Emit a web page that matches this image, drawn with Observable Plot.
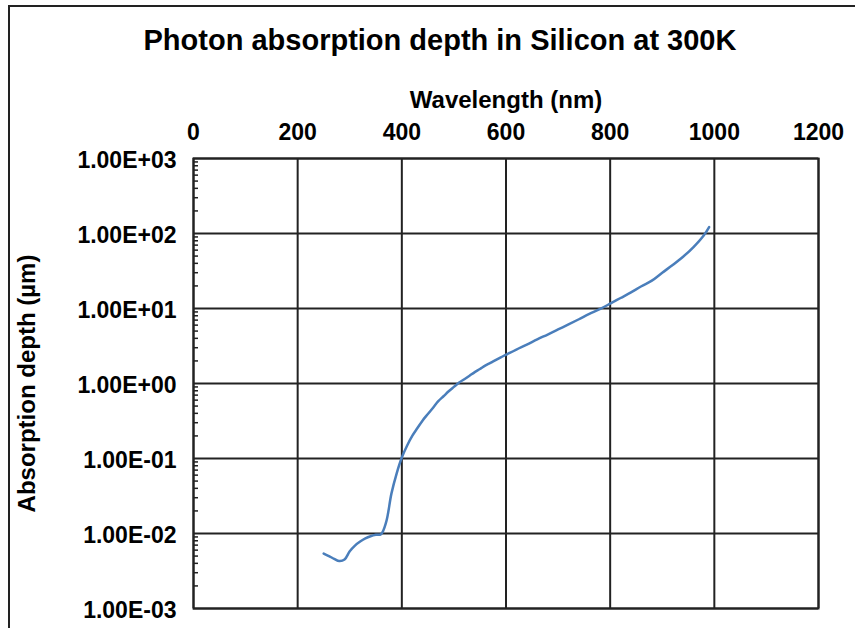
<!DOCTYPE html>
<html>
<head>
<meta charset="utf-8">
<script src="https://cdn.jsdelivr.net/npm/d3@7"></script>
<script src="https://cdn.jsdelivr.net/npm/@observablehq/plot@0.6"></script>
<style>
  html, body { margin: 0; padding: 0; background: #fff; overflow: hidden; width: 855px; height: 628px; }
  #wrap { position: relative; width: 855px; height: 628px; font-family: "Liberation Sans", Arial, sans-serif; }
  #border { position: absolute; left: 8px; top: 5px; right: -4px; bottom: -4px; border-left: 2px solid #222; border-top: 2px solid #222; }
  #title { position: relative; height: 70px; }
  #title span { position: absolute; left: 0; width: 880px; top: 26px; text-align: center; font-size: 29px; line-height: 29px; font-weight: bold; color: #000; }
  #chart { position: relative; }
  #chart svg { display: block; }
</style>
</head>
<body>
<div id="wrap">
  <div id="border"></div>
  <div id="title"><span>Photon absorption depth in Silicon at 300K</span></div>
  <div id="chart"></div>
</div>
<script>
// Data
const wavelength = [250,260,270,280,290,300,310,320,330,340,350,360,370,380,390,400,410,420,430,440,450,460,470,480,490,500,510,520,530,540,550,560,570,580,590,600,620,640,660,680,700,720,740,760,780,800,820,840,860,880,900,920,940,960,980,990];
const depth = [0.0054,0.0050,0.0046,0.0043,0.0045,0.0058,0.0069,0.0078,0.0086,0.0092,0.0096,0.0098,0.0143,0.034,0.063,0.103,0.148,0.20,0.255,0.322,0.392,0.476,0.581,0.676,0.787,0.901,1.03,1.14,1.27,1.42,1.56,1.73,1.88,2.05,2.23,2.42,2.84,3.30,3.88,4.50,5.26,6.13,7.19,8.47,9.8,11.6,13.8,16.4,19.8,23.5,30,38,49,66,95,122];
const xTicks = [0,200,400,600,800,1000,1200];
const yTicks = [1e-3,1e-2,1e-1,1e0,1e1,1e2,1e3];
const minorTicks = [];
for (let e = -3; e < 3; e++) for (let m = 2; m <= 9; m++) minorTicks.push(m * Math.pow(10, e));

const data = wavelength.map((w, i) => ({w, d: depth[i]}));
const fmt = d => {
  const e = Math.round(Math.log10(d));
  const m = d / Math.pow(10, e);
  const s = e < 0 ? "-" : "+";
  return m.toFixed(2) + "E" + s + String(Math.abs(e)).padStart(2, "0");
};
const font = "Liberation Sans, Arial, sans-serif";

const plot = Plot.plot({
  width: 855,
  height: 558,
  marginTop: 88,
  marginRight: 37,
  marginBottom: 20,
  marginLeft: 193,
  style: {fontFamily: font, background: "transparent", overflow: "visible"},
  x: {domain: [0, 1200]},
  y: {type: "log", domain: [1e-3, 1e3]},
  marks: [
    Plot.gridX(xTicks, {stroke: "#222", strokeOpacity: 1, strokeWidth: 2}),
    Plot.gridY(yTicks, {stroke: "#222", strokeOpacity: 1, strokeWidth: 2}),
    Plot.axisY({ticks: minorTicks, tickSize: 5, dx: 5, text: null, label: null, stroke: "#222", strokeWidth: 1.5}),
    Plot.axisX({anchor: "top", ticks: xTicks, tickFormat: d => String(d), tickSize: 0, tickPadding: 19, label: null, fontSize: 23, fontWeight: "bold", fill: "#000"}),
    Plot.axisY({anchor: "left", ticks: yTicks, tickFormat: fmt, tickSize: 0, tickPadding: 17, dy: 2, label: null, fontSize: 23, fontWeight: "bold", fill: "#000"}),
    Plot.frame({stroke: "#222", strokeWidth: 2}),
    Plot.line(data, {x: "w", y: "d", stroke: "#4a7ebb", strokeWidth: 2.5, curve: "catmull-rom"}),
    Plot.text(["Wavelength (nm)"], {frameAnchor: "top", dy: -51, lineAnchor: "bottom", textAnchor: "middle", text: d => d, fontSize: 24, fontWeight: "bold", fill: "#000"}),
    Plot.text(["Absorption depth (µm)"], {frameAnchor: "left", dx: -166, rotate: -90, lineAnchor: "middle", textAnchor: "middle", text: d => d, fontSize: 24, fontWeight: "bold", fill: "#000"})
  ]
});
document.getElementById("chart").appendChild(plot);
</script>
</body>
</html>
